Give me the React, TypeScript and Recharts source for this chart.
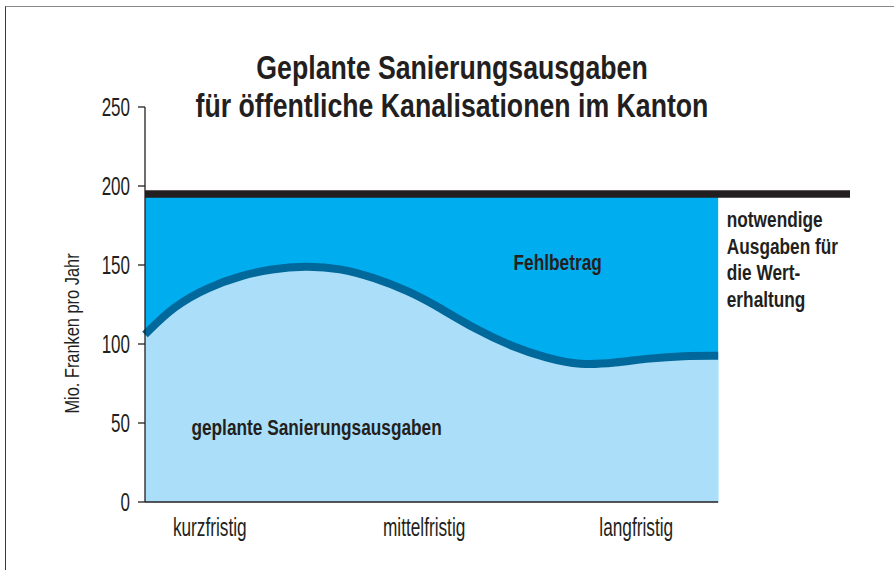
import React from "react";
import {
  ComposedChart,
  Area,
  XAxis,
  YAxis,
  ReferenceLine,
  ReferenceDot,
} from "recharts";

// ---- data ----
// horizontal position along the time axis (0 = start, 100 = end of the shaded area)
const xPos = [0, 5, 11, 17, 22, 28, 34, 40, 46, 50, 58, 64, 70, 76, 82, 88, 94, 100];
// planned renovation spending (Mio. Fr. per year)
const planned = [106, 124, 136, 143.5, 147.5, 149.5, 148, 142, 133.5, 126, 108.5, 98.5, 91, 86.5, 88, 91, 92.5, 92.5];
// required spending for value preservation
const required = [195, 195, 195, 195, 195, 195, 195, 195, 195, 195, 195, 195, 195, 195, 195, 195, 195, 195];
const requiredLevel = 195;

const yTicks = [0, 50, 100, 150, 200, 250];
const xTickPos = [11.3, 48.7, 85.7];
const xTickLabels = ["kurzfristig", "mittelfristig", "langfristig"];

const titleLines = ["Geplante Sanierungsausgaben", "für öffentliche Kanalisationen im Kanton"];
const yLabel = "Mio. Franken pro Jahr";
const gapLabel = "Fehlbetrag";
const plannedLabel = "geplante Sanierungsausgaben";
const requiredLabelLines = ["notwendige", "Ausgaben für", "die Wert-", "erhaltung"];

const data = xPos.map((x, i) => ({ x, planned: planned[i], required: required[i] }));

const FONT = "'Liberation Sans', Arial, sans-serif";
const INK = "#231F20";

const YTick = (props: any) => {
  const { x, y, payload } = props;
  return (
    <g transform={`translate(${x},${y})`}>
      <text transform="scale(0.68,1)" textAnchor="end" dy="0.36em" fontSize={25} fontFamily={FONT} fill={INK}>
        {payload.value}
      </text>
    </g>
  );
};

const XTick = (props: any) => {
  const { x, y, payload } = props;
  const idx = xTickPos.indexOf(payload.value);
  return (
    <g transform={`translate(${x},${y + 34})`}>
      <text transform="scale(0.69,1)" textAnchor="middle" fontSize={25} fontFamily={FONT} fill={INK}>
        {idx >= 0 ? xTickLabels[idx] : ""}
      </text>
    </g>
  );
};

const YAxisLabel = (props: any) => {
  const vb = props.viewBox || { x: 0, y: 107, width: 145, height: 395 };
  const cx = vb.x + 79;
  const cy = vb.y + vb.height / 2 + 29;
  return (
    <g transform={`translate(${cx},${cy}) rotate(-90)`}>
      <text transform="scale(0.78,1)" textAnchor="middle" fontSize={21} fontFamily={FONT} fill={INK}>
        {yLabel}
      </text>
    </g>
  );
};

const makeBoldLabel = (lines: string[], lineGap: number) => (props: any) => {
  const vb = props.viewBox || { x: 0, y: 0 };
  return (
    <g transform={`translate(${vb.x},${vb.y})`}>
      <text transform="scale(0.785,1)" fontSize={22} fontWeight="bold" fontFamily={FONT} fill={INK}>
        {lines.map((l, i) => (
          <tspan key={i} x={0} y={i * lineGap}>
            {l}
          </tspan>
        ))}
      </text>
    </g>
  );
};

const GapLabel = makeBoldLabel([gapLabel], 0);
const PlannedLabel = makeBoldLabel([plannedLabel], 0);
const RequiredLabel = makeBoldLabel(requiredLabelLines, 26.6);

export default function App() {
  return (
    <div style={{ position: "absolute", left: 0, top: 0, width: 894, height: 570, background: "#fff", overflow: "hidden" }}>
      <div
        style={{
          position: "absolute",
          left: 5,
          top: 6,
          width: 900,
          height: 600,
          borderTop: "1.5px solid #8a8a8a",
          borderLeft: "1.5px solid #3a3a3a",
          boxSizing: "border-box",
        }}
      />
      <svg
        width={894}
        height={130}
        style={{ position: "absolute", left: 0, top: 0, pointerEvents: "none" }}
      >
        {titleLines.map((t, i) => (
          <g key={i} transform={`translate(452,${79 + i * 38})`}>
            <text transform="scale(0.785,1)" textAnchor="middle" fontSize={34} fontWeight="bold" fontFamily={FONT} fill={INK}>
              {t}
            </text>
          </g>
        ))}
      </svg>
      <div style={{ position: "absolute", left: 0, top: 0 }}>
        <ComposedChart width={894} height={570} data={data} margin={{ top: 107, right: 44, left: 0, bottom: 0 }}>
          <XAxis
            dataKey="x"
            type="number"
            domain={[0, 123]}
            ticks={xTickPos}
            axisLine={false}
            tickLine={false}
            tickSize={0}
            tickMargin={0}
            height={68}
            tick={<XTick />}
            interval={0}
          />
          <YAxis
            type="number"
            domain={[0, 250]}
            ticks={yTicks}
            width={145}
            tickSize={7}
            tickMargin={8}
            axisLine={{ stroke: INK, strokeWidth: 1.3 }}
            tickLine={{ stroke: INK, strokeWidth: 1.3 }}
            tick={<YTick />}
            interval={0}
            label={{ content: YAxisLabel }}
          />
          <Area
            dataKey="required"
            type="linear"
            fill="#00ADEF"
            fillOpacity={1}
            stroke="none"
            isAnimationActive={false}
            dot={false}
            activeDot={false}
          />
          <Area
            dataKey="planned"
            type="basis"
            fill="#ABDFF9"
            fillOpacity={1}
            stroke="#00689A"
            strokeWidth={8}
            isAnimationActive={false}
            dot={false}
            activeDot={false}
          />
          <ReferenceLine y={requiredLevel} stroke={INK} strokeWidth={7.5} />
          <ReferenceLine
            segment={[
              { x: 0, y: 0 },
              { x: 100, y: 0 },
            ]}
            stroke={INK}
            strokeWidth={1.3}
          />
          <ReferenceDot x={64.3} y={146.6} r={0} fill="none" stroke="none" label={{ content: GapLabel }} />
          <ReferenceDot x={8.1} y={42.2} r={0} fill="none" stroke="none" label={{ content: PlannedLabel }} />
          <ReferenceDot x={101.5} y={174} r={0} fill="none" stroke="none" label={{ content: RequiredLabel }} />
        </ComposedChart>
      </div>
    </div>
  );
}
